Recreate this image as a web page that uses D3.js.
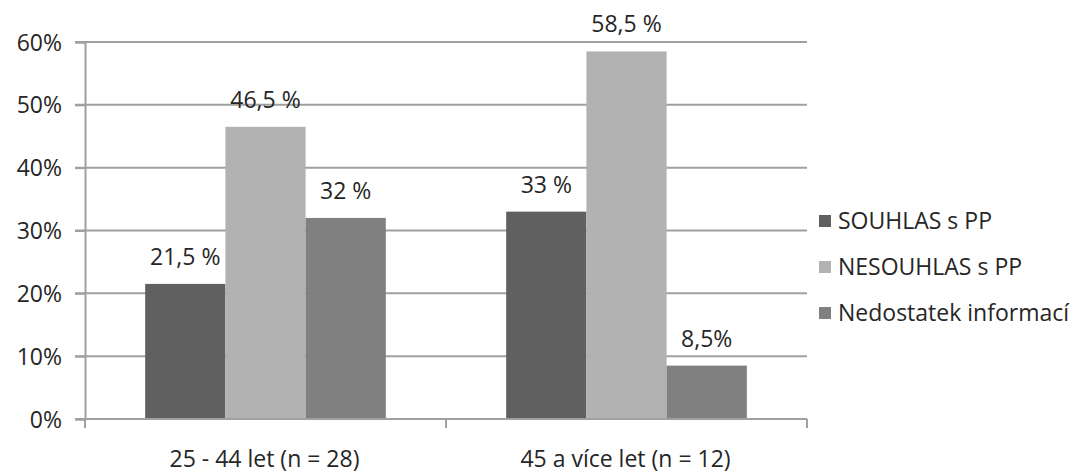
<!DOCTYPE html>
<html>
<head>
<meta charset="utf-8">
<script src="https://cdn.jsdelivr.net/npm/d3@7"></script>
<style>
  html, body { margin: 0; padding: 0; background: #fff; }
  svg text { font-family: "Open Sans", "Noto Sans", sans-serif; fill: #262626; }
</style>
</head>
<body>
<svg id="chart" width="1074" height="473"></svg>
<script>
const categories = ["25 - 44 let (n = 28)", "45 a více let (n = 12)"];
const seriesNames = ["SOUHLAS s PP", "NESOUHLAS s PP", "Nedostatek informací"];
const souhlas = [21.5, 33];
const nesouhlas = [46.5, 58.5];
const nedostatek = [32, 8.5];
const valueLabels = [["21,5 %", "33 %"], ["46,5 %", "58,5 %"], ["32 %", "8,5%"]];
const yTicks = [0, 10, 20, 30, 40, 50, 60];
const yTickLabels = ["0%", "10%", "20%", "30%", "40%", "50%", "60%"];
const colors = ["#606060", "#b2b2b2", "#808080"];

const seriesValues = [souhlas, nesouhlas, nedostatek];

const svg = d3.select("#chart");
const plotLeft = 85, plotRight = 807, plotTop = 42, plotBottom = 419;
const fontSize = 23;

const y = d3.scaleLinear().domain([0, 60]).range([plotBottom, plotTop]);
const x0 = d3.scaleBand().domain(categories).range([plotLeft, plotRight]).paddingInner(0).paddingOuter(0);
const x1 = d3.scaleBand().domain(seriesNames).range([0, x0.bandwidth()]).paddingInner(0).paddingOuter(0.75);

const gridColor = "#a0a0a0";

// gridlines
svg.append("g").selectAll("line").data(yTicks.filter(t => t > 0)).join("line")
  .attr("x1", plotLeft - 10).attr("x2", plotRight)
  .attr("y1", d => y(d)).attr("y2", d => y(d))
  .attr("stroke", gridColor).attr("stroke-width", 2);

// y axis
const yAxis = d3.axisLeft(y).tickValues(yTicks).tickSize(10).tickPadding(13)
  .tickFormat((d, i) => yTickLabels[i]);
const gy = svg.append("g").attr("transform", `translate(${plotLeft},0)`).call(yAxis);
gy.select(".domain").attr("stroke", gridColor).attr("stroke-width", 2);
gy.selectAll(".tick line").attr("stroke", gridColor).attr("stroke-width", 2);
gy.selectAll(".tick text").attr("font-size", fontSize).attr("font-family", "Open Sans").attr("fill", "#262626").attr("dy", "0.35em");

// bars
const barData = (c, ci) => seriesNames.map((s, si) => ({s, si, v: seriesValues[si][ci], label: valueLabels[si][ci]}));
const groups = svg.append("g").selectAll("g").data(categories).join("g")
  .attr("transform", d => `translate(${x0(d)},0)`);
groups.selectAll("rect").data(barData)
  .join("rect")
  .attr("x", d => x1(d.s)).attr("width", x1.bandwidth())
  .attr("y", d => y(d.v)).attr("height", d => y(0) - y(d.v))
  .attr("fill", d => colors[d.si]);
groups.selectAll("text").data(barData)
  .join("text")
  .attr("x", d => x1(d.s) + x1.bandwidth() / 2)
  .attr("y", d => y(d.v) - 19)
  .attr("text-anchor", "middle").attr("font-size", fontSize)
  .text(d => d.label);

// x axis
const xAxisLine = svg.append("g");
xAxisLine.append("line").attr("x1", plotLeft - 10).attr("x2", plotRight).attr("y1", plotBottom).attr("y2", plotBottom)
  .attr("stroke", gridColor).attr("stroke-width", 2);
const boundaries = [plotLeft, ...categories.map(c => x0(c) + x0.bandwidth())];
xAxisLine.selectAll("line.tk").data(boundaries).join("line").attr("class", "tk")
  .attr("x1", d => d).attr("x2", d => d).attr("y1", plotBottom).attr("y2", plotBottom + 9)
  .attr("stroke", gridColor).attr("stroke-width", 2);
svg.append("g").selectAll("text").data(categories).join("text")
  .attr("x", d => x0(d) + x0.bandwidth() / 2 - 1).attr("y", 467)
  .attr("text-anchor", "middle").attr("font-size", fontSize)
  .text(d => d);

// legend
const legend = svg.append("g").selectAll("g").data(seriesNames).join("g")
  .attr("transform", (d, i) => `translate(819, ${229 + i * 46})`);
legend.append("rect").attr("x", 0).attr("y", -14).attr("width", 12).attr("height", 12)
  .attr("fill", (d, i) => colors[i]);
legend.append("text").attr("x", 19).attr("y", 0).attr("font-size", fontSize).text(d => d);
</script>
</body>
</html>
